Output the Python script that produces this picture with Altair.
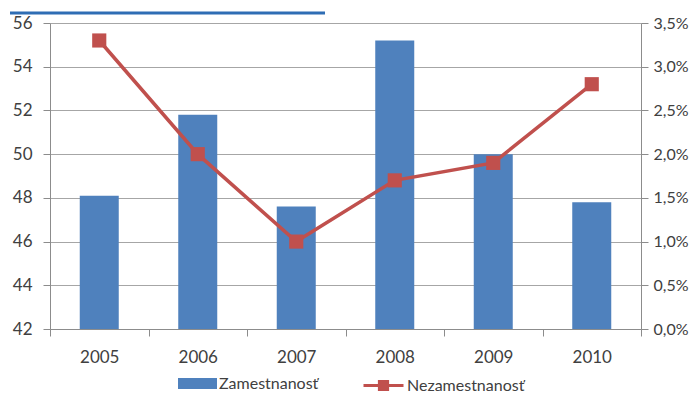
import altair as alt
import pandas as pd

# ---- data ----
years = ["2005", "2006", "2007", "2008", "2009", "2010"]
employment = [48.1, 51.8, 47.6, 55.2, 50.0, 47.8]          # left axis
unemployment = [3.3, 2.0, 1.0, 1.7, 1.9, 2.8]               # right axis, in %
left_ticks = [42, 44, 46, 48, 50, 52, 54, 56]
right_ticks = [0.0, 0.5, 1.0, 1.5, 2.0, 2.5, 3.0, 3.5]
left_base = 42
bar_label = "Zamestnanosť"
line_label = "Nezamestnanosť"
title_text = "finančnom sektore?"

BLUE = "#4F81BD"
RED = "#C0504D"
GRID = "#A6A6A6"
AXIS = "#8C8C8C"
TXT = "#404040"
FONT = "Lato"

df = pd.DataFrame({
    "year": years,
    "emp": employment,
    "unemp": unemployment,
    "s1": [bar_label] * len(years),
    "s2": [line_label] * len(years),
})

x_enc = alt.X(
    "year:N", sort=years,
    scale=alt.Scale(type="band", paddingInner=0, paddingOuter=0),
    axis=alt.Axis(title=None, labelAngle=0, tickBand="extent", tickSize=7,
                  labelPadding=13, labelFontSize=17, labelFont=FONT,
                  labelColor=TXT, domainColor=AXIS, tickColor=AXIS, grid=False),
)

left_axis = alt.Axis(title=None, orient="left", values=left_ticks, grid=True,
                     gridColor=GRID, tickSize=7, tickColor=AXIS, domainColor=AXIS,
                     labelPadding=11, labelFontSize=17, labelFont=FONT,
                     labelColor=TXT)

right_axis = alt.Axis(title=None, orient="right", values=right_ticks, grid=False,
                      tickSize=7, tickColor=AXIS, domainColor=AXIS,
                      labelPadding=5, labelFontSize=16, labelFont=FONT,
                      labelColor=TXT,
                      labelExpr="replace(format(datum.value, '.1f'), '.', ',') + '%'")

bars = alt.Chart(df).mark_bar(size=39).encode(
    x=x_enc,
    y=alt.Y("emp:Q", scale=alt.Scale(domain=[42, 56], nice=False, zero=False),
            axis=left_axis),
    y2=alt.datum(left_base),
    color=alt.Color("s1:N", scale=alt.Scale(domain=[bar_label], range=[BLUE]),
                    legend=alt.Legend(title=None, orient="none", legendX=128,
                                      legendY=341, padding=0,
                                      symbolType="M-1,-0.28H1V0.28H-1Z",
                                      symbolSize=1521, symbolStrokeWidth=0,
                                      labelFontSize=16, labelFont=FONT,
                                      labelColor=TXT, labelOffset=2)),
)

y_right = alt.Y("unemp:Q", scale=alt.Scale(domain=[0, 3.5], nice=False, zero=True),
                axis=right_axis)

line = alt.Chart(df).mark_line(strokeWidth=3.5).encode(
    x=x_enc,
    y=y_right,
    stroke=alt.Stroke("s2:N", scale=alt.Scale(domain=[line_label], range=[RED]),
                      legend=alt.Legend(title=None, orient="none", legendX=312,
                                        legendY=341, padding=0,
                                        symbolType="M-1,0H1M-0.28,-0.2H0.28M-0.28,-0.1H0.28M-0.28,0.1H0.28M-0.28,0.2H0.28",
                                        symbolSize=1600, symbolStrokeWidth=3,
                                        symbolStrokeColor=RED,
                                        labelFontSize=16, labelFont=FONT,
                                        labelColor=TXT, labelOffset=2)),
)

points = alt.Chart(df).mark_point(shape="square", filled=True, size=200,
                                  color=RED, opacity=1).encode(
    x=x_enc,
    y=y_right,
)

title_df = pd.DataFrame({"t": [title_text]})
title_mark = alt.Chart(title_df).mark_text(
    align="left", baseline="alphabetic", fontSize=36, font="Liberation Sans",
    color="#2E6DB4",
).encode(text="t:N", x=alt.value(-40), y=alt.value(-15))

underline = alt.Chart(title_df).mark_rule(color="#2E6DB4", strokeWidth=3).encode(
    x=alt.value(-40), x2=alt.value(275), y=alt.value(-10)
)

chart = alt.layer(
    bars,
    alt.layer(line, points),
    title_mark,
    underline,
).resolve_scale(y="independent", color="independent").properties(
    width=591, height=306,
    autosize=alt.AutoSizeParams(type="none"),
    padding={"left": 42, "top": 15, "right": 51, "bottom": 65},
).configure_view(stroke=None).configure(background="white")

chart.save("out.html", embed_options={"renderer": "svg", "actions": False})
